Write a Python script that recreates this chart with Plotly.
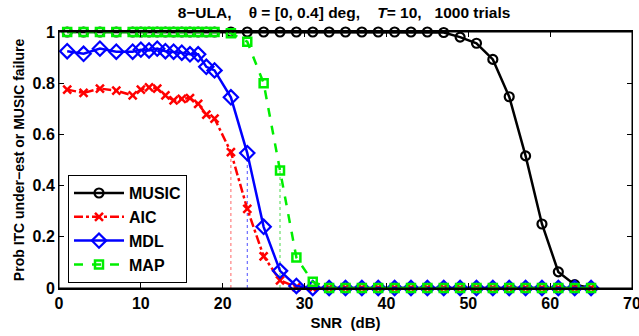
import plotly.graph_objects as go

snr = [1, 3, 5, 7, 9, 10, 11, 12, 13, 14, 15, 16, 17, 18, 19,
       21, 23, 25, 27, 29, 31, 33, 35, 37, 39, 41, 43, 45, 47, 49,
       51, 53, 55, 57, 59, 61, 63, 65]

music = [1.0] * 28 + [0.998, 0.98, 0.956, 0.893, 0.747, 0.516, 0.25, 0.063, 0.013, 0.0]
aic = [0.775, 0.762, 0.779, 0.771, 0.752, 0.775, 0.784, 0.779, 0.752, 0.733,
       0.739, 0.742, 0.719, 0.677, 0.662, 0.531, 0.309, 0.124, 0.03, 0.003] + [0.0] * 18
mdl = [0.925, 0.915, 0.935, 0.923, 0.923, 0.931, 0.928, 0.935, 0.925, 0.923,
       0.919, 0.913, 0.913, 0.864, 0.85, 0.745, 0.527, 0.239, 0.067, 0.008] + [0.0] * 18
map_ = [1.0] * 15 + [0.995, 0.962, 0.80, 0.459, 0.119, 0.024] + [0.0] * 17

thresh_x = [21, 23, 27]
thresh_y = [0.531, 0.527, 0.459]
thresh_colors = ["rgba(255,0,0,0.6)", "rgba(0,0,255,0.7)", "rgba(0,200,0,0.7)"]

xticks = [0, 10, 20, 30, 40, 50, 60, 70]
yticks = [0, 0.2, 0.4, 0.6, 0.8, 1]
yticklabels = ["0", "0.2", "0.4", "0.6", "0.8", "1"]

FONT = "Liberation Sans, Arial, Helvetica, sans-serif"
NB = "\u00a0"
fig = go.Figure()

for tx, ty, tc in zip(thresh_x, thresh_y, thresh_colors):
    fig.add_trace(go.Scatter(x=[tx, tx], y=[0, ty], mode="lines",
                             line=dict(color=tc, width=1, dash="dot"),
                             showlegend=False, hoverinfo="skip"))

fig.add_trace(go.Scatter(x=snr, y=music, name="MUSIC", mode="lines+markers",
                         line=dict(color="black", width=2.5),
                         marker=dict(symbol="circle-open", size=9, color="black",
                                     line=dict(width=2.2, color="black")),
                         cliponaxis=False))
fig.add_trace(go.Scatter(x=snr, y=aic, name="AIC", mode="lines+markers",
                         line=dict(color="#ff0000", width=2.5, dash="dashdot"),
                         marker=dict(symbol="x-thin-open", size=8, color="#ff0000",
                                     line=dict(width=2.5, color="#ff0000")),
                         cliponaxis=False))
fig.add_trace(go.Scatter(x=snr, y=mdl, name="MDL", mode="lines+markers",
                         line=dict(color="#0000ff", width=2.5),
                         marker=dict(symbol="diamond-open", size=11, color="#0000ff",
                                     line=dict(width=2.2, color="#0000ff")),
                         cliponaxis=False))
fig.add_trace(go.Scatter(x=snr, y=map_, name="MAP", mode="lines+markers",
                         line=dict(color="#00ee00", width=2.5, dash="dash"),
                         marker=dict(symbol="square-open", size=8, color="#00ee00",
                                     line=dict(width=2.5, color="#00ee00")),
                         cliponaxis=False))

# box (top/right thin)
fig.add_shape(type="rect", xref="paper", yref="paper", x0=0, y0=0, x1=1, y1=1,
              line=dict(color="black", width=1), layer="above")

title_text = ("8\u2212ULA," + NB * 4 + "\u03b8 = [0, 0.4] deg," + NB * 4 +
              "<i>T</i>= 10," + NB * 3 + "1000 trials")

fig.update_layout(
    width=639, height=336,
    margin=dict(l=59, r=7, t=32, b=48, autoexpand=False),
    paper_bgcolor="white", plot_bgcolor="white",
    font=dict(family=FONT, size=15, color="black", weight="bold"),
    title=dict(text=title_text,
               x=344 / 639, xanchor="center", y=1 - 13 / 336, yanchor="middle",
               font=dict(family=FONT, size=15.5, weight="bold")),
    showlegend=True,
    legend=dict(x=0.0157, y=0.441, xanchor="left", yanchor="top",
                bgcolor="white", bordercolor="black", borderwidth=1,
                font=dict(family=FONT, size=16, weight="bold"),
                tracegroupgap=0, itemwidth=50),
    xaxis=dict(range=[0, 70], tickvals=xticks, ticks="inside", ticklen=5,
               tickcolor="black", showline=True, linecolor="black", linewidth=2,
               mirror="ticks", showgrid=False, zeroline=False, automargin=False,
               ticklabeloverflow="allow",
               tickfont=dict(family=FONT, size=16, weight="bold"),
               title=dict(text="SNR" + NB * 2 + "(dB)", standoff=6,
                          font=dict(family=FONT, size=15, weight="bold"))),
    yaxis=dict(range=[0, 1], tickvals=yticks, ticktext=yticklabels, ticks="inside",
               ticklen=5, tickcolor="black", showline=True, linecolor="black",
               linewidth=1, mirror="ticks", showgrid=False, zeroline=False,
               automargin=False,
               tickfont=dict(family=FONT, size=16, weight="bold"),
               title=dict(text="Prob ITC under\u2212est or MUSIC failure", standoff=4,
                          font=dict(family=FONT, size=14, weight="bold"))),
)

fig.write_html("out.html", config={"displayModeBar": False},
               post_script="document.body.style.margin='0';document.body.style.padding='0';")
